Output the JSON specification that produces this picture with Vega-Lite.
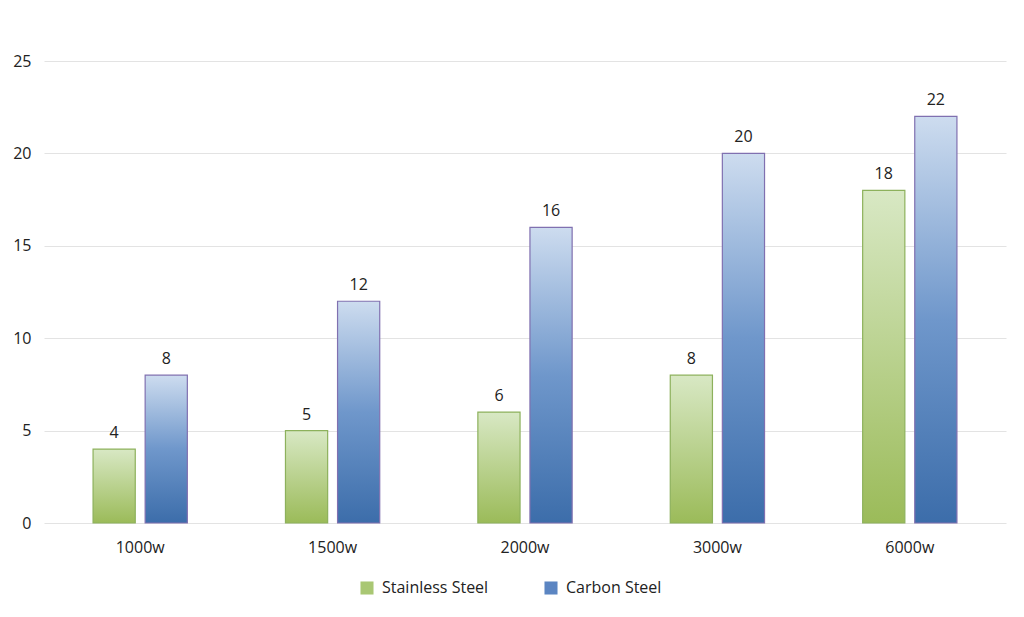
{
  "$schema": "https://vega.github.io/schema/vega-lite/v6.json",
  "width": 962,
  "height": 462,
  "autosize": "none",
  "padding": {"left": 44, "top": 61, "right": 18, "bottom": 94},
  "background": "white",
  "config": {
    "view": {"stroke": null},
    "font": "Open Sans",
    "axis": {"labelFont": "Open Sans", "labelColor": "#222222", "labelFontSize": 16, "ticks": false, "domain": false, "gridColor": "#e3e3e3", "gridWidth": 1},
    "legend": {"labelFont": "Open Sans", "labelFontSize": 16, "labelColor": "#222222", "padding": 0}
  },
  "data": {
    "values": [
      {"power": "1000w", "type": "Stainless Steel", "value": 4},
      {"power": "1000w", "type": "Carbon Steel", "value": 8},
      {"power": "1500w", "type": "Stainless Steel", "value": 5},
      {"power": "1500w", "type": "Carbon Steel", "value": 12},
      {"power": "2000w", "type": "Stainless Steel", "value": 6},
      {"power": "2000w", "type": "Carbon Steel", "value": 16},
      {"power": "3000w", "type": "Stainless Steel", "value": 8},
      {"power": "3000w", "type": "Carbon Steel", "value": 20},
      {"power": "6000w", "type": "Stainless Steel", "value": 18},
      {"power": "6000w", "type": "Carbon Steel", "value": 22}
    ]
  },
  "encoding": {
    "x": {"field": "power", "type": "nominal", "sort": null,
          "scale": {"paddingInner": 0.51, "paddingOuter": 0.255},
          "axis": {"title": null, "labelAngle": 0, "labelPadding": 16, "grid": false}},
    "xOffset": {"field": "type", "type": "nominal",
                "scale": {"domain": ["Stainless Steel", "Carbon Steel"], "paddingInner": 0.19, "paddingOuter": 0}},
    "y": {"field": "value", "type": "quantitative",
          "scale": {"domain": [0, 25], "nice": false},
          "axis": {"title": null, "values": [0, 5, 10, 15, 20, 25], "labelPadding": 13}}
  },
  "layer": [
    {
      "transform": [{"filter": "datum.type === 'Stainless Steel'"}],
      "mark": {"type": "bar", "strokeWidth": 1.2, "stroke": "#8db15c",
               "color": {"gradient": "linear", "x1": 0, "y1": 0, "x2": 0, "y2": 1, "stops": [{"offset": 0, "color": "#d8e8c4"}, {"offset": 1, "color": "#9bbb59"}]}}
    },
    {
      "transform": [{"filter": "datum.type === 'Carbon Steel'"}],
      "mark": {"type": "bar", "strokeWidth": 1.2, "stroke": "#8070b0",
               "color": {"gradient": "linear", "x1": 0, "y1": 0, "x2": 0, "y2": 1, "stops": [{"offset": 0, "color": "#cddcef"}, {"offset": 0.5, "color": "#6f97cb"}, {"offset": 1, "color": "#3c6daa"}]}}
    },
    {
      "transform": [{"filter": "false"}],
      "mark": {"type": "bar"},
      "encoding": {
        "color": {"field": "type", "type": "nominal",
                  "scale": {"domain": ["Stainless Steel", "Carbon Steel"], "range": ["#a9c773", "#5b85c2"]},
                  "legend": {"title": null, "orient": "none", "legendX": 315, "legendY": 519, "direction": "horizontal", "symbolType": "square", "symbolSize": 170, "columnPadding": 54, "labelOffset": 7, "symbolStrokeWidth": 0}}
      }
    },
    {
      "mark": {"type": "text", "baseline": "bottom", "dy": -8, "fontSize": 16, "color": "#222222", "font": "Open Sans"},
      "encoding": {"text": {"field": "value", "type": "quantitative"}}
    }
  ]
}
